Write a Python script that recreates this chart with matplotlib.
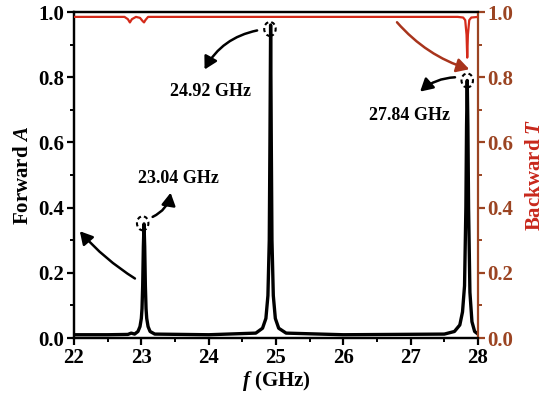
import matplotlib
matplotlib.use("Agg")
import matplotlib.pyplot as plt
from matplotlib.patches import Ellipse, FancyArrowPatch

plt.rcParams['font.family'] = ['Liberation Serif', 'DejaVu Serif']
plt.rcParams['font.weight'] = 'bold'
plt.rcParams['axes.labelweight'] = 'bold'
plt.rcParams['mathtext.fontset'] = 'custom'
plt.rcParams['mathtext.it'] = 'Liberation Serif:style=italic:weight=bold'
plt.rcParams['mathtext.rm'] = 'Liberation Serif:weight=bold'
plt.rcParams['mathtext.bf'] = 'Liberation Serif:weight=bold'

# Forward absorption A
freq_A = [22.0, 22.5, 22.8, 22.85, 22.9, 22.95, 22.98, 23.0, 23.01, 23.02, 23.03, 23.04, 23.05, 23.06,
          23.07, 23.08, 23.1, 23.13, 23.2,
          24.0, 24.7, 24.8, 24.85, 24.88, 24.9, 24.91, 24.92, 24.93, 24.94, 24.96, 24.99, 25.04, 25.15,
          26.0, 27.5, 27.65, 27.73, 27.77, 27.8, 27.82, 27.83, 27.84, 27.85, 27.86, 27.88, 27.91,
          27.95, 28.0]
fwd_A = [0.010, 0.010, 0.011, 0.015, 0.012, 0.02, 0.035, 0.06, 0.09, 0.16, 0.28, 0.35, 0.28, 0.16,
         0.09, 0.06, 0.035, 0.02, 0.012,
         0.010, 0.015, 0.03, 0.06, 0.13, 0.30, 0.60, 0.96, 0.60, 0.30, 0.13, 0.06, 0.03, 0.015,
         0.010, 0.012, 0.02, 0.04, 0.08, 0.16, 0.40, 0.65, 0.79, 0.65, 0.40, 0.14, 0.05,
         0.02, 0.012]

# Backward transmission T
freq_T = [22.0, 22.75, 22.8, 22.83, 22.86, 22.92, 22.98, 23.02, 23.04, 23.06, 23.1, 23.2,
          27.7, 27.78, 27.81, 27.83, 27.84, 27.85, 27.87, 27.9, 28.0]
bwd_T = [0.985, 0.985, 0.978, 0.968, 0.978, 0.985, 0.982, 0.972, 0.968, 0.975, 0.985, 0.985,
         0.985, 0.983, 0.975, 0.93, 0.86, 0.93, 0.975, 0.983, 0.985]

x_ticks = [22, 23, 24, 25, 26, 27, 28]
y_ticks = [0.0, 0.2, 0.4, 0.6, 0.8, 1.0]

brown = '#9B4422'
red = '#D42A1A'

fig = plt.figure(figsize=(5.5, 3.97), dpi=100)
ax = fig.add_axes([74/550, 1-338/397, (478-74)/550, (338-12)/397])
ax2 = ax.twinx()

ax.plot(freq_A, fwd_A, color='black', lw=2.4, zorder=3)
ax2.plot(freq_T, bwd_T, color=red, lw=1.6, zorder=3)

ax.set_xlim(22, 28)
ax.set_ylim(0, 1.0)
ax2.set_ylim(0, 1.0)
ax.set_xticks(x_ticks)
ax.set_yticks(y_ticks)
ax2.set_yticks(y_ticks)
ax.set_xticks([22.5 + i for i in range(6)], minor=True)
ax.set_yticks([0.1, 0.3, 0.5, 0.7, 0.9], minor=True)
ax2.set_yticks([0.1, 0.3, 0.5, 0.7, 0.9], minor=True)
ax.set_yticklabels([f'{v:.1f}' for v in y_ticks])
ax2.set_yticklabels([f'{v:.1f}' for v in y_ticks])

for a in (ax, ax2):
    for s in a.spines.values():
        s.set_linewidth(1.6)
ax.tick_params(axis='both', which='major', direction='out', length=5, width=1.6, labelsize=15, pad=2)
ax.tick_params(axis='both', which='minor', direction='out', length=3, width=1.4)
ax2.tick_params(axis='y', which='major', direction='out', length=5, width=1.6, labelsize=15,
                colors=brown, pad=2)
ax2.tick_params(axis='y', which='minor', direction='out', length=3, width=1.4, colors=brown)
ax2.spines['right'].set_color(brown)
ax.spines['right'].set_visible(False)

ax.set_xlabel(r'$f$ (GHz)', fontsize=15, labelpad=1)
ax.set_ylabel(r'Forward $A$', fontsize=15, labelpad=4)
ax2.set_ylabel(r'Backward $T$', fontsize=15, color='#C8281C', labelpad=8)

# dashed circles at peaks
for (cx, cy) in [(23.02, 0.352), (24.91, 0.948), (27.84, 0.79)]:
    ax.add_patch(Ellipse((cx, cy), 0.17, 0.043, fill=False, ls=(0, (2, 1.5)), lw=1.5,
                         color='black', zorder=5))

def arrow(axx, p0, p1, rad, color='black'):
    axx.add_patch(FancyArrowPatch(p0, p1, connectionstyle=f'arc3,rad={rad}',
                                  arrowstyle='-|>,head_length=5,head_width=2.8',
                                  color=color, lw=1.8, zorder=6, mutation_scale=1.5))

arrow(ax, (23.13, 0.368), (23.44, 0.454), 0.3)
arrow(ax, (24.76, 0.945), (23.92, 0.816), 0.25)
arrow(ax, (27.70, 0.80), (27.11, 0.75), 0.2)
arrow(ax, (22.94, 0.178), (22.06, 0.334), -0.08)
arrow(ax, (26.77, 0.975), (27.91, 0.822), 0.15, color='#A8341C')

ax.text(23.55, 0.49, '23.04 GHz', fontsize=13, ha='center', va='center')
ax.text(24.02, 0.755, '24.92 GHz', fontsize=13, ha='center', va='center')
ax.text(26.99, 0.684, '27.84 GHz', fontsize=13, ha='center', va='center')

fig.savefig('out.png', dpi=100)
